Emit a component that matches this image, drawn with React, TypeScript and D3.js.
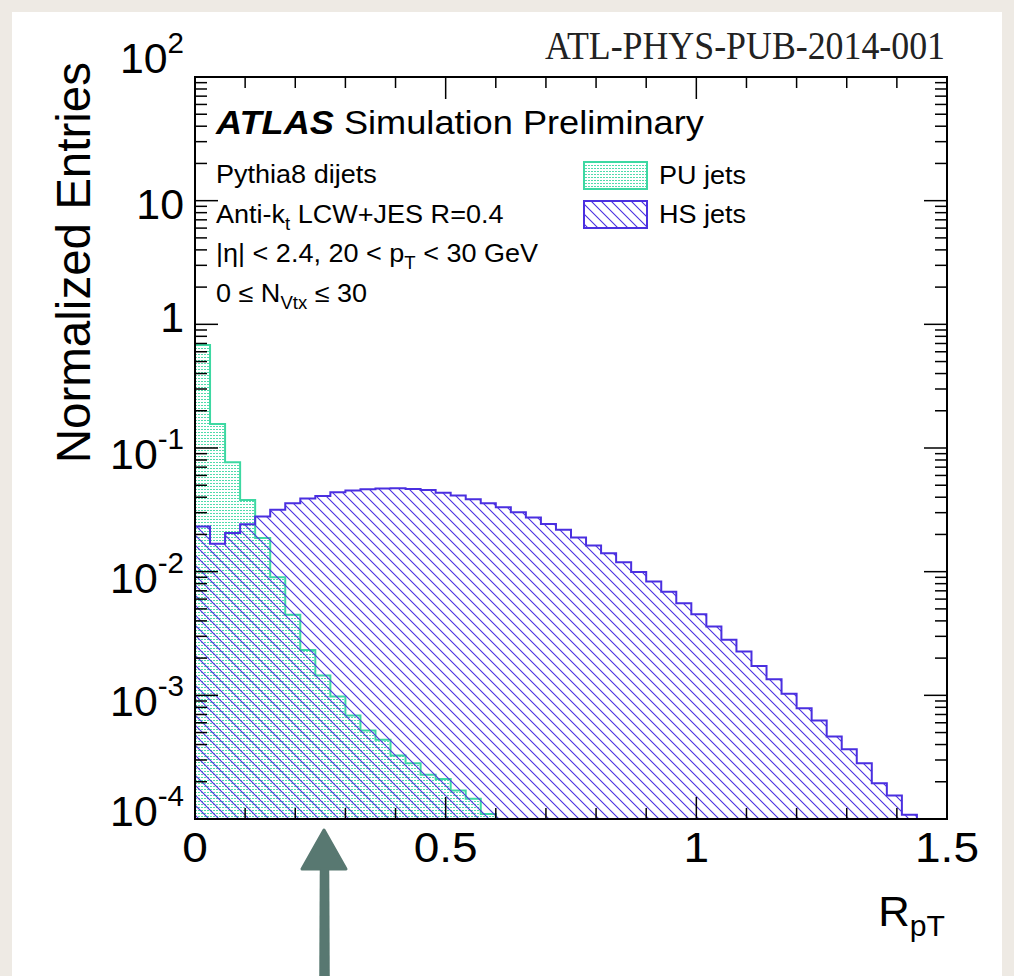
import React from "react";
import * as d3 from "d3";

// ---- data ----
const BIN_LOW = [
  0, 0.03, 0.06, 0.09, 0.12, 0.15, 0.18, 0.21, 0.24, 0.27,
  0.3, 0.33, 0.36, 0.39, 0.42, 0.45, 0.48, 0.51, 0.54, 0.57,
  0.6, 0.63, 0.66, 0.69, 0.72, 0.75, 0.78, 0.81, 0.84, 0.87,
  0.9, 0.93, 0.96, 0.99, 1.02, 1.05, 1.08, 1.11, 1.14, 1.17,
  1.2, 1.23, 1.26, 1.29, 1.32, 1.35, 1.38, 1.41, 1.44, 1.47,
];
const BIN_WIDTH = 0.03;

const PU_JETS = [
  0.681, 0.156, 0.0767, 0.038, 0.0187, 0.00902, 0.00448, 0.00233, 0.00145, 0.000977,
  0.000687, 0.000519, 0.000437, 0.000326, 0.000283, 0.000228, 0.000211, 0.00017, 0.000146, 0.00011,
  0, 0, 0, 0, 0, 0, 0, 0, 0, 0,
  0, 0, 0, 0, 0, 0, 0, 0, 0, 0,
  0, 0, 0, 0, 0, 0, 0, 0, 0, 0,
];
const HS_JETS = [
  0.0232, 0.0168, 0.0205, 0.0242, 0.0279, 0.0316, 0.0358, 0.039, 0.041, 0.0439,
  0.0453, 0.0465, 0.047, 0.0473, 0.0467, 0.0458, 0.0435, 0.0412, 0.0385, 0.0358,
  0.0332, 0.0303, 0.0274, 0.0243, 0.0218, 0.0189, 0.0163, 0.0141, 0.0119, 0.00996,
  0.00832, 0.00687, 0.00556, 0.00452, 0.0036, 0.00281, 0.00226, 0.00173, 0.00135, 0.00103,
  0.000788, 0.000625, 0.000465, 0.000367, 0.000283, 0.000195, 0.000155, 0.000108, 0, 0,
];

const X_TICKS = [0, 0.5, 1, 1.5];
const X_TICK_LABELS = ["0", "0.5", "1", "1.5"];
const Y_DECADES = [2, 1, 0, -1, -2, -3, -4];
const Y_TICK_LABELS: [string, string][] = [
  ["10", "2"], ["10", ""], ["1", ""], ["10", "-1"], ["10", "-2"], ["10", "-3"], ["10", "-4"],
];

const INFO_LINES = ["Pythia8 dijets", "Anti-k_t LCW+JES R=0.4", "|η| < 2.4, 20 < p_T < 30 GeV", "0 ≤ N_Vtx ≤ 30"];
const LEGEND = ["PU jets", "HS jets"];

// ---- layout ----
const W = 1014;
const H = 976;
const X0 = 195, X1 = 947, Y0 = 77, Y1 = 819;
const PU_COLOR = "#3dd8a2";
const HS_COLOR = "#4a2fe0";
const FONT = "'Liberation Sans', Arial, Helvetica, sans-serif";
const SX = 1.07; // horizontal stretch of the reference lettering

function T({ x, y, sx = SX, anchor = "start", size, children, ...rest }: any) {
  return (
    <g transform={`translate(${x},${y}) scale(${sx},1)`}>
      <text x={0} y={0} fontSize={size} fontFamily={FONT} textAnchor={anchor} fill="#000" {...rest}>
        {children}
      </text>
    </g>
  );
}

export default function App() {
  const x = d3.scaleLinear().domain([0, 1.5]).range([X0, X1]);
  const y = d3.scaleLog().domain([1e-4, 1e2]).range([Y1, Y0]);
  const yv = (v: number) => (v <= 1e-4 ? Y1 : Math.min(Y1, y(v)));

  const histPath = (vals: number[]) => {
    const p = d3.path();
    p.moveTo(x(BIN_LOW[0]), Y1);
    vals.forEach((v, i) => {
      p.lineTo(x(BIN_LOW[i]), yv(v));
      p.lineTo(x(BIN_LOW[i] + BIN_WIDTH), yv(v));
    });
    p.lineTo(x(BIN_LOW[BIN_LOW.length - 1] + BIN_WIDTH), Y1);
    p.closePath();
    return p.toString();
  };

  const xMinor = d3.range(0, 16).map((k) => k / 10);
  const yMinor: number[] = [];
  for (let e = -4; e < 2; e++) for (let m = 2; m <= 9; m++) yMinor.push(m * Math.pow(10, e));

  // vertical offset of label baseline relative to its tick
  const yLabelOffset = (e: number, hasExp: boolean) => {
    if (e === 2) return -4.5;
    if (e === -4) return 7;
    if (e === 0) return 8;
    return hasExp ? 21 : 18;
  };

  const infoText = (s: string, i: number) => {
    const yy = 183 + i * 39.6;
    const parts = s.split(/_(\w+)/);
    return (
      <T key={i} x={216} y={yy} size={25.5} sx={1.06}>
        {parts.map((t, j) =>
          j % 2 === 1 ? (
            <tspan key={j} fontSize={17.5} dy={7}>{t}</tspan>
          ) : (
            <tspan key={j} dy={j === 0 ? 0 : -7}>{t}</tspan>
          )
        )}
      </T>
    );
  };

  return (
    <svg width={W} height={H} style={{ position: "absolute", left: 0, top: 0 }}>
      <defs>
        <pattern id="puDots" patternUnits="userSpaceOnUse" width={3} height={3}>
          <rect x={0} y={0} width={2} height={1} fill={PU_COLOR} opacity={0.9} />
        </pattern>
        <pattern id="hsHatch" patternUnits="userSpaceOnUse" width={10} height={10}>
          <path d="M-2,-2 L12,12 M-2,8 L2,12 M8,-2 L12,2" stroke={HS_COLOR} strokeWidth={1.1} />
        </pattern>
        <clipPath id="frameClip">
          <rect x={X0} y={Y0} width={X1 - X0} height={Y1 - Y0} />
        </clipPath>
      </defs>
      <rect x={0} y={0} width={W} height={H} fill="#eeeae4" />
      <rect x={12} y={12} width={990} height={H - 12} fill="#ffffff" />

      {/* histograms */}
      <g clipPath="url(#frameClip)">
        <path d={histPath(PU_JETS)} fill="url(#puDots)" stroke={PU_COLOR} strokeWidth={2} />
        <path d={histPath(HS_JETS)} fill="url(#hsHatch)" stroke={HS_COLOR} strokeWidth={2} />
      </g>

      {/* frame */}
      <rect x={X0} y={Y0} width={X1 - X0} height={Y1 - Y0} fill="none" stroke="#000" strokeWidth={2} />

      {/* x ticks */}
      {xMinor.map((v, i) => {
        const major = X_TICKS.some((t) => Math.abs(t - v) < 1e-9);
        const len = major ? 22 : 11;
        return (
          <g key={"xt" + i} stroke="#000" strokeWidth={1.5}>
            <line x1={x(v)} x2={x(v)} y1={Y1} y2={Y1 - len} />
            <line x1={x(v)} x2={x(v)} y1={Y0} y2={Y0 + len} />
          </g>
        );
      })}
      {/* y ticks */}
      {Y_DECADES.map((e) => (
        <g key={"ym" + e} stroke="#000" strokeWidth={1.5}>
          <line x1={X0} x2={X0 + 23} y1={y(Math.pow(10, e))} y2={y(Math.pow(10, e))} />
          <line x1={X1} x2={X1 - 23} y1={y(Math.pow(10, e))} y2={y(Math.pow(10, e))} />
        </g>
      ))}
      {yMinor.map((v, i) => (
        <g key={"yn" + i} stroke="#000" strokeWidth={1.5}>
          <line x1={X0} x2={X0 + 12} y1={y(v)} y2={y(v)} />
          <line x1={X1} x2={X1 - 12} y1={y(v)} y2={y(v)} />
        </g>
      ))}

      {/* x tick labels */}
      {X_TICKS.map((t, i) => (
        <T key={"xl" + i} x={x(t)} y={862} size={43} anchor="middle">
          {X_TICK_LABELS[i]}
        </T>
      ))}
      {/* y tick labels */}
      {Y_DECADES.map((e, i) => {
        const [base, exp] = Y_TICK_LABELS[i];
        const ty = y(Math.pow(10, e));
        return (
          <T key={"yl" + i} x={184} y={ty + yLabelOffset(e, !!exp)} size={42} sx={1.02} anchor="end">
            {base}
            {exp ? <tspan fontSize={29} dy={-20}>{exp}</tspan> : null}
          </T>
        );
      })}

      {/* axis titles */}
      <text transform={`translate(90,62) rotate(-90)`} fontSize={47.5} fontFamily={FONT} textAnchor="end" fill="#000">
        Normalized Entries
      </text>
      <T x={945} y={926} size={42} anchor="end" sx={1.04}>
        R<tspan fontSize={29} dy={10}>pT</tspan>
      </T>

      {/* top-right reference */}
      <text x={945} y={59} fontSize={41} fontFamily="'Liberation Serif', 'Times New Roman', serif"
        textAnchor="end" fill="#222" textLength={400} lengthAdjust="spacingAndGlyphs">
        ATL-PHYS-PUB-2014-001
      </text>

      {/* ATLAS label */}
      <T x={216} y={134} size={33.5} sx={1.08}>
        <tspan fontWeight="bold" fontStyle="italic">ATLAS</tspan>
        <tspan> Simulation Preliminary</tspan>
      </T>
      {INFO_LINES.map(infoText)}

      {/* legend */}
      <rect x={584} y={162} width={63} height={27} fill="url(#puDots)" stroke={PU_COLOR} strokeWidth={2} />
      <rect x={584} y={201} width={63} height={27} fill="url(#hsHatch)" stroke={HS_COLOR} strokeWidth={2} />
      {LEGEND.map((l, i) => (
        <T key={"lg" + i} x={659} y={184 + i * 39} size={25.5} sx={1.06}>
          {l}
        </T>
      ))}

      {/* arrow */}
      <g fill="#587871" stroke="#587871" strokeLinejoin="round">
        <polygon points="324,830 346,869 302,869" strokeWidth={3} />
        <path d="M320,868 L329,868 L329.5,976 L319.5,976 Z" strokeWidth={0.5} />
      </g>
    </svg>
  );
}
